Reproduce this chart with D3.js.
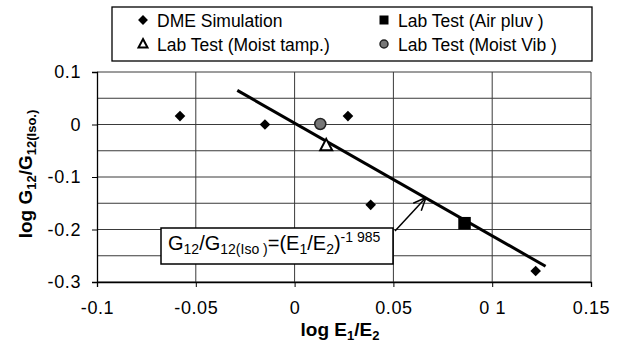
<!DOCTYPE html>
<html>
<head>
<meta charset="utf-8">
<script src="https://cdn.jsdelivr.net/npm/d3@7"></script>
<style>
  body { margin: 0; background: #fff; }
  text { font-family: "Liberation Sans", Arial, sans-serif; fill: #000; }
</style>
</head>
<body>
<div id="chart"></div>
<script>
var width = 626
var height = 361

var margin = { top: 72, left: 97, right: 35, bottom: 79 }

// series
var dmeX = [-0.058, -0.015, 0.027, 0.0385, 0.122]
var dmeY = [0.016, 0.0, 0.016, -0.153, -0.279]
var airX = [0.086]
var airY = [-0.188]
var tampX = [0.016]
var tampY = [-0.040]
var vibX = [0.013]
var vibY = [0.001]
var trendX = [-0.029, 0.127]
var trendY = [0.065, -0.270]

var xTicks = [-0.1, -0.05, 0, 0.05, 0.1, 0.15]
var xTickLabels = ["-0.1", "-0.05", "0", "0.05", "0 1", "0.15"]
var yTicks = [0.1, 0, -0.1, -0.2, -0.3]
var yTickLabels = ["0.1", "0", "-0.1", "-0.2", "-0.3"]
var yGrid = [0.1, 0.05, 0, -0.05, -0.1, -0.15, -0.2, -0.25, -0.3]

var legendNames = ["DME Simulation", "Lab Test (Moist tamp.)", "Lab Test (Air pluv )", "Lab Test (Moist Vib )"]

var svg = d3.select("#chart").append("svg")
    .attr("width", width)
    .attr("height", height)

var x = d3.scaleLinear().domain([-0.1, 0.15]).range([margin.left, width - margin.right])
var y = d3.scaleLinear().domain([-0.3, 0.1]).range([height - margin.bottom, margin.top])

// grid
svg.append("g").selectAll("line")
    .data(yGrid)
    .enter()
    .append("line")
    .attr("x1", x(-0.1)).attr("x2", x(0.15))
    .attr("y1", function(d) { return y(d) }).attr("y2", function(d) { return y(d) })
    .attr("stroke", "#3a3a3a").attr("stroke-width", 1)

svg.append("g").selectAll("line")
    .data(xTicks.slice(1))
    .enter()
    .append("line")
    .attr("x1", function(d) { return x(d) }).attr("x2", function(d) { return x(d) })
    .attr("y1", y(0.1)).attr("y2", y(-0.3))
    .attr("stroke", "#3a3a3a").attr("stroke-width", 1)

// axes
svg.append("g")
    .attr("transform", "translate(0," + y(-0.3) + ")")
    .call(d3.axisBottom(x).tickValues(xTicks).tickSize(5).tickPadding(14)
        .tickFormat(function(d, i) { return xTickLabels[i] }))
svg.append("g")
    .attr("transform", "translate(" + x(-0.1) + ",0)")
    .call(d3.axisLeft(y).tickValues(yTicks).tickSize(5).tickPadding(11)
        .tickFormat(function(d, i) { return yTickLabels[i] }))

svg.selectAll(".domain").attr("stroke", "#000").attr("stroke-width", 1.3)
svg.selectAll(".tick line").attr("stroke", "#000")
svg.selectAll(".tick text").style("font-size", "18px").attr("fill", "#000")
    .style("letter-spacing", "0.6px")
    .style("font-family", "Liberation Sans, Arial, sans-serif")

// trend line
svg.append("line")
    .attr("x1", x(trendX[0])).attr("y1", y(trendY[0]))
    .attr("x2", x(trendX[1])).attr("y2", y(trendY[1]))
    .attr("stroke", "#000").attr("stroke-width", 3)

// markers
function dmeMark(g, s) {
    g.append("rect").attr("x", -s / 2).attr("y", -s / 2).attr("width", s).attr("height", s)
        .attr("transform", "rotate(45)").attr("fill", "#000")
}
function airMark(g, s) {
    g.append("rect").attr("x", -s / 2).attr("y", -s / 2).attr("width", s).attr("height", s)
        .attr("fill", "#000")
}
function tampMark(g, s) {
    g.append("path").attr("d", "M0," + (-s * 0.55) + "L" + (s / 2) + "," + (s * 0.4) + "L" + (-s / 2) + "," + (s * 0.4) + "Z")
        .attr("fill", "#fff").attr("stroke", "#000").attr("stroke-width", 2)
}
function vibMark(g, s) {
    g.append("circle").attr("r", s / 2).attr("fill", "#777").attr("stroke", "#222").attr("stroke-width", 1.5)
}

function plotSeries(xs, ys, mark, s) {
    svg.append("g").selectAll("g")
        .data(d3.zip(xs, ys))
        .enter().append("g")
        .attr("transform", function(d) { return "translate(" + x(d[0]) + "," + y(d[1]) + ")" })
        .each(function() { mark(d3.select(this), s) })
}
plotSeries(dmeX, dmeY, dmeMark, 7.5)
plotSeries(airX, airY, airMark, 12.5)
plotSeries(tampX, tampY, tampMark, 12)
plotSeries(vibX, vibY, vibMark, 11)

// axis titles
var xt = svg.append("text")
    .attr("x", 340).attr("y", 336)
    .attr("text-anchor", "middle")
    .style("font-size", "19px").style("font-weight", "bold")
xt.append("tspan").text("log E")
xt.append("tspan").text("1").attr("dy", 4).style("font-size", "13px")
xt.append("tspan").text("/E").attr("dy", -4)
xt.append("tspan").text("2").attr("dy", 4).style("font-size", "13px")

var yt = svg.append("text")
    .attr("transform", "translate(32,174) rotate(-90)")
    .attr("text-anchor", "middle")
    .style("font-size", "19px").style("font-weight", "bold")
yt.append("tspan").text("log G")
yt.append("tspan").text("12").attr("dy", 4).style("font-size", "13px")
yt.append("tspan").text("/G").attr("dy", -4)
yt.append("tspan").text("12(Iso.)").attr("dy", 4).style("font-size", "13px")

// equation box + arrow
var arrowStart = [395, 231]
var arrowEnd = [x(0.0665), y(-0.139)]
svg.append("line")
    .attr("x1", arrowStart[0]).attr("y1", arrowStart[1])
    .attr("x2", arrowEnd[0]).attr("y2", arrowEnd[1])
    .attr("stroke", "#000").attr("stroke-width", 1.5)
var ang = Math.atan2(arrowEnd[1] - arrowStart[1], arrowEnd[0] - arrowStart[0])
var headLen = 14
;[-0.4, 0.4].forEach(function(a) {
    svg.append("line")
        .attr("x1", arrowEnd[0]).attr("y1", arrowEnd[1])
        .attr("x2", arrowEnd[0] - headLen * Math.cos(ang + a))
        .attr("y2", arrowEnd[1] - headLen * Math.sin(ang + a))
        .attr("stroke", "#000").attr("stroke-width", 1.5)
})

svg.append("rect")
    .attr("x", 161).attr("y", 228).attr("width", 232).attr("height", 36)
    .attr("fill", "#fff").attr("stroke", "#000").attr("stroke-width", 1.5)

var eq = svg.append("text")
    .attr("x", 168).attr("y", 250)
    .style("font-size", "20px")
eq.append("tspan").text("G")
eq.append("tspan").text("12").attr("dy", 4).style("font-size", "14px")
eq.append("tspan").text("/G").attr("dy", -4)
eq.append("tspan").text("12(Iso )").attr("dy", 4).style("font-size", "14px")
eq.append("tspan").text("=(E").attr("dy", -4)
eq.append("tspan").text("1").attr("dy", 4).style("font-size", "14px")
eq.append("tspan").text("/E").attr("dy", -4)
eq.append("tspan").text("2").attr("dy", 4).style("font-size", "14px")
eq.append("tspan").text(")").attr("dy", -4)
eq.append("tspan").text("-1 985").attr("dy", -8).style("font-size", "14px")

// legend
var legend = svg.append("g")
legend.append("rect")
    .attr("x", 112).attr("y", 7).attr("width", 480).attr("height", 54)
    .attr("fill", "#fff").attr("stroke", "#000").attr("stroke-width", 1.3)

var legPos = [[143, 20], [143, 44], [384, 20], [384, 44]]
var legMarks = [dmeMark, tampMark, airMark, vibMark]
var legSizes = [7, 9, 9, 8]
legendNames.forEach(function(name, i) {
    var p = legPos[i]
    var g = legend.append("g").attr("transform", "translate(" + p[0] + "," + p[1] + ")")
    legMarks[i](g, legSizes[i])
    legend.append("text")
        .attr("x", p[0] + 14).attr("y", p[1] + 6.5)
        .style("font-size", "17.5px")
        .text(name)
})
</script>
</body>
</html>
